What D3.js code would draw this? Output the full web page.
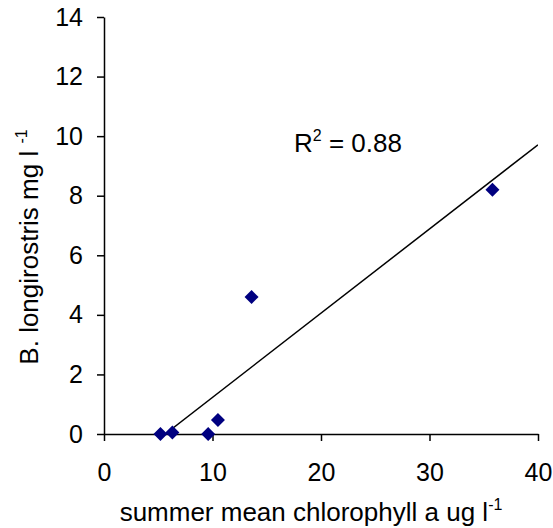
<!DOCTYPE html>
<html>
<head>
<meta charset="utf-8">
<script src="https://cdn.jsdelivr.net/npm/d3@7"></script>
<style>
  html, body { margin: 0; padding: 0; background: #fff; }
  svg { display: block; font-family: "Liberation Sans", Arial, sans-serif; }
</style>
</head>
<body>
<svg id="chart" width="553" height="528"></svg>
<script>
// Summer mean chlorophyll a (ug l-1) vs. B. longirostris biomass (mg l-1)
const chlorophyll = [5.2, 6.3, 9.6, 10.5, 13.6, 35.8];
const bosmina     = [0.0, 0.05, 0.0, 0.47, 4.6, 8.2];
const xTicks = [0, 10, 20, 30, 40];
const yTicks = [0, 2, 4, 6, 8, 10, 12, 14];
const rSquaredLabel = "0.88";

const svg = d3.select("#chart");
const margin = { left: 104, top: 17, right: 15, bottom: 94 };
const W = 553, H = 528;
const x = d3.scaleLinear().domain([0, 40]).range([margin.left, W - margin.right]);
const y = d3.scaleLinear().domain([0, 14]).range([H - margin.bottom, margin.top]);

// Least-squares trend line
const mx = d3.mean(chlorophyll), my = d3.mean(bosmina);
const sxy = d3.sum(chlorophyll, (v, i) => (v - mx) * (bosmina[i] - my));
const sxx = d3.sum(chlorophyll, v => (v - mx) ** 2);
const slope = sxy / sxx, intercept = my - slope * mx;
const xStart = Math.max(d3.min(chlorophyll), -intercept / slope);

svg.append("defs").append("clipPath").attr("id", "plot")
  .append("rect")
  .attr("x", x(0)).attr("y", y(14))
  .attr("width", x(40) - x(0)).attr("height", y(0) - y(14));

svg.append("line")
  .attr("clip-path", "url(#plot)")
  .attr("x1", x(xStart)).attr("y1", y(slope * xStart + intercept))
  .attr("x2", x(40)).attr("y2", y(slope * 40 + intercept))
  .attr("stroke", "#000").attr("stroke-width", 1.5);

// Axes
const tickFont = 25, titleFont = 26, supFont = 16;
const gx = svg.append("g")
  .attr("transform", `translate(0,${y(0)})`)
  .call(d3.axisBottom(x).tickValues(xTicks).tickSize(7).tickPadding(22).tickSizeOuter(0));
const gy = svg.append("g")
  .attr("transform", `translate(${x(0)},0)`)
  .call(d3.axisLeft(y).tickValues(yTicks).tickSize(7).tickPadding(14).tickSizeOuter(0));
[gx, gy].forEach(g => {
  g.select(".domain").attr("stroke", "#000").attr("stroke-width", 1.5);
  g.selectAll(".tick line").attr("stroke", "#000").attr("stroke-width", 1.5);
  g.selectAll(".tick text").attr("fill", "#000")
    .attr("font-size", tickFont).attr("font-family", "Liberation Sans, Arial, sans-serif");
});

// Data markers (diamonds)
svg.append("g").selectAll("path")
  .data(chlorophyll.map((c, i) => [c, bosmina[i]]))
  .join("path")
  .attr("transform", d => `translate(${x(d[0])},${y(d[1])})`)
  .attr("d", "M0,-7L7,0L0,7L-7,0Z")
  .attr("fill", "#000080");

// Axis titles
const xt = svg.append("text")
  .attr("x", 311).attr("y", 521)
  .attr("text-anchor", "middle").attr("font-size", titleFont).attr("fill", "#000");
xt.append("tspan").text("summer mean chlorophyll a ug l");
xt.append("tspan").attr("dy", -11).attr("font-size", supFont).text("-1");

const yt = svg.append("text")
  .attr("transform", `translate(38,247) rotate(-90)`)
  .attr("text-anchor", "middle").attr("font-size", titleFont).attr("fill", "#000");
yt.append("tspan").text("B. longirostris mg l ");
yt.append("tspan").attr("dy", -11).attr("font-size", supFont).text("-1");

// R squared annotation
const rt = svg.append("text")
  .attr("x", 294).attr("y", 152).attr("font-size", titleFont).attr("fill", "#000");
rt.append("tspan").text("R");
rt.append("tspan").attr("dy", -11).attr("font-size", supFont).text("2");
rt.append("tspan").attr("dy", 11).text(" = " + rSquaredLabel);
</script>
</body>
</html>
